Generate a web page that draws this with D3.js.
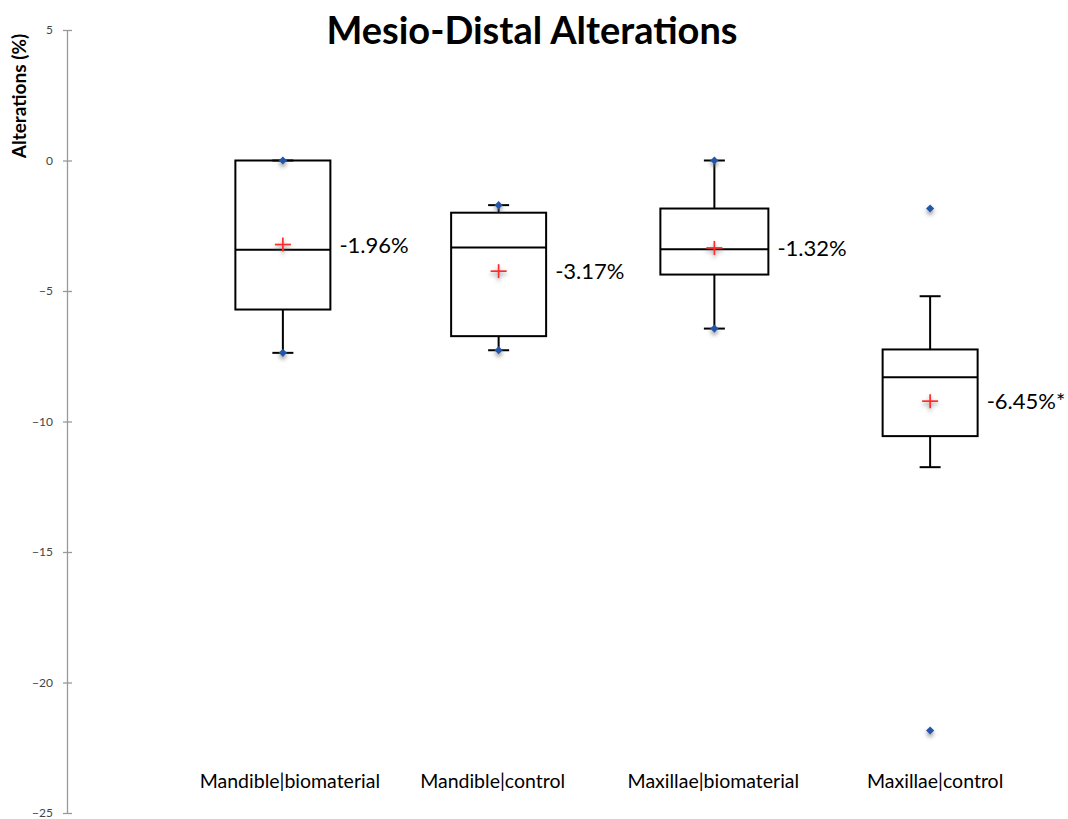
<!DOCTYPE html>
<html>
<head>
<meta charset="utf-8">
<script src="https://cdn.jsdelivr.net/npm/d3@7"></script>
<style>
  html, body { margin: 0; padding: 0; background: #fff; }
  svg { display: block; }
</style>
</head>
<body>
<svg id="chart" width="1068" height="819"></svg>
<script>
// Box plot of mesio-distal alterations (%) per jaw and treatment group
const categories = ["Mandible|biomaterial", "Mandible|control", "Maxillae|biomaterial", "Maxillae|control"];
const q1Values      = [-5.71, -6.73, -4.37, -10.56];
const medianValues  = [-3.42, -3.33, -3.40, -8.30];
const q3Values      = [ 0.00, -2.00, -1.84, -7.24];
const whiskerLow    = [-7.37, -7.27, -6.44, -11.75];
const whiskerHigh   = [ 0.00, -1.71,  0.00, -5.20];
const meanValues    = [-3.22, -4.24, -3.35, -9.22];
// minimum / maximum observations shown as points
const minPoints     = [-7.37, -7.27, -6.44, -21.84];
const maxPoints     = [ 0.00, -1.71,  0.00, -1.84];
const annotations   = ["-1.96%", "-3.17%", "-1.32%", "-6.45%*"];
const yTicks        = [5, 0, -5, -10, -15, -20, -25];

const svg = d3.select("#chart");
const font = "Lato, 'Open Sans', sans-serif";

const y = d3.scaleLinear().domain([-25, 5]).range([813, 30]);
const x = d3.scaleBand().domain(categories).range([175, 1038]).paddingInner(0).paddingOuter(0);
const cx = c => x(c) + x.bandwidth() / 2;
const boxWidth = c => (c === "Maxillae|biomaterial" ? 108 : 95);
const capWidth = 21;

const defs = svg.append("defs");
const f = defs.append("filter").attr("id", "shadow")
  .attr("x", "-100%").attr("y", "-100%").attr("width", "300%").attr("height", "300%");
f.append("feDropShadow").attr("dx", 0).attr("dy", 3).attr("stdDeviation", 2.2)
  .attr("flood-color", "#666").attr("flood-opacity", 0.7);

// Title
svg.append("text")
  .attr("x", 532).attr("y", 44)
  .attr("text-anchor", "middle")
  .attr("font-family", font).attr("font-weight", "bold").attr("font-size", 38)
  .attr("fill", "#000")
  .text("Mesio-Distal Alterations");

// Y axis
const yAxis = d3.axisLeft(y).tickValues(yTicks).tickSize(0).tickPadding(14);
const gy = svg.append("g").attr("transform", "translate(67,0)").call(yAxis);
gy.select(".domain").attr("stroke", "#999").attr("stroke-width", 1.3);
gy.selectAll(".tick line").remove();
gy.selectAll(".tick").append("line")
  .attr("x1", -4).attr("x2", 5).attr("stroke", "#999").attr("stroke-width", 1.3);
gy.selectAll(".tick text")
  .attr("font-family", font).attr("font-size", 12).attr("fill", "#444");

svg.append("text")
  .attr("transform", "translate(26,96) rotate(-90)")
  .attr("text-anchor", "middle")
  .attr("font-family", font).attr("font-weight", "bold").attr("font-size", 19)
  .attr("fill", "#000")
  .text("Alterations (%)");

// Boxes
const rows = categories.map((c, i) => ({
  c, q1: q1Values[i], med: medianValues[i], q3: q3Values[i],
  lo: whiskerLow[i], hi: whiskerHigh[i], mean: meanValues[i],
  minP: minPoints[i], maxP: maxPoints[i], label: annotations[i]
}));

const g = svg.append("g").selectAll("g").data(rows).join("g");

// whiskers
g.append("line")
  .attr("x1", d => cx(d.c)).attr("x2", d => cx(d.c))
  .attr("y1", d => y(d.q3)).attr("y2", d => y(d.hi))
  .attr("stroke", "#000").attr("stroke-width", 2);
g.append("line")
  .attr("x1", d => cx(d.c)).attr("x2", d => cx(d.c))
  .attr("y1", d => y(d.q1)).attr("y2", d => y(d.lo))
  .attr("stroke", "#000").attr("stroke-width", 2);
g.append("line")
  .attr("x1", d => cx(d.c) - capWidth / 2).attr("x2", d => cx(d.c) + capWidth / 2)
  .attr("y1", d => y(d.hi)).attr("y2", d => y(d.hi))
  .attr("stroke", "#000").attr("stroke-width", 2);
g.append("line")
  .attr("x1", d => cx(d.c) - capWidth / 2).attr("x2", d => cx(d.c) + capWidth / 2)
  .attr("y1", d => y(d.lo)).attr("y2", d => y(d.lo))
  .attr("stroke", "#000").attr("stroke-width", 2);

// box
g.append("rect")
  .attr("x", d => cx(d.c) - boxWidth(d.c) / 2)
  .attr("width", d => boxWidth(d.c))
  .attr("y", d => y(d.q3))
  .attr("height", d => y(d.q1) - y(d.q3))
  .attr("fill", "none").attr("stroke", "#000").attr("stroke-width", 2);

// median
g.append("line")
  .attr("x1", d => cx(d.c) - boxWidth(d.c) / 2).attr("x2", d => cx(d.c) + boxWidth(d.c) / 2)
  .attr("y1", d => y(d.med)).attr("y2", d => y(d.med))
  .attr("stroke", "#000").attr("stroke-width", 2);

// mean marker
const mean = g.append("g")
  .attr("transform", d => `translate(${cx(d.c)},${y(d.mean)})`)
  .attr("filter", "url(#shadow)");
mean.append("line").attr("x1", -8).attr("x2", 8).attr("y1", 0).attr("y2", 0)
  .attr("stroke", "#ff2a2a").attr("stroke-width", 1.7);
mean.append("line").attr("x1", 0).attr("x2", 0).attr("y1", -7).attr("y2", 7)
  .attr("stroke", "#ff2a2a").attr("stroke-width", 1.7);

// min / max points
const diamond = d3.symbol().type(d3.symbolDiamond2 || d3.symbolDiamond).size(42);
["minP", "maxP"].forEach(k => {
  g.append("path")
    .attr("d", diamond)
    .attr("transform", d => `translate(${cx(d.c)},${y(d[k])})`)
    .attr("fill", "#2456a8")
    .attr("filter", "url(#shadow)");
});

// value annotations
g.append("text")
  .attr("x", d => cx(d.c) + boxWidth(d.c) / 2 + 9)
  .attr("y", d => y(d.mean) + 8)
  .attr("font-family", font).attr("font-size", 22).attr("fill", "#000")
  .text(d => d.label);

// category labels
svg.append("g").selectAll("text").data(categories).join("text")
  .attr("x", c => cx(c) + [7, -6, -1, 5][categories.indexOf(c)])
  .attr("y", 788)
  .attr("text-anchor", "middle")
  .attr("font-family", font).attr("font-size", 19.5).attr("fill", "#000")
  .text(c => c);
</script>
</body>
</html>
